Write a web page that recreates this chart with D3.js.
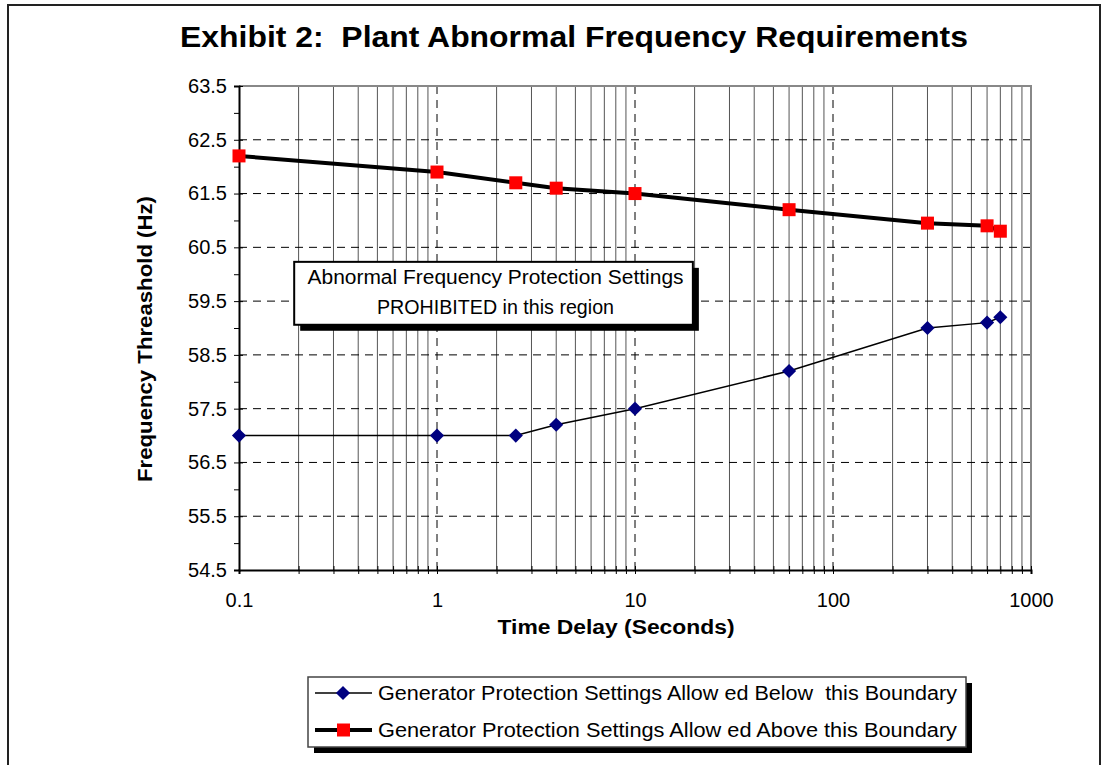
<!DOCTYPE html>
<html lang="en">
<head>
  <meta charset="UTF-8">
  <title>Exhibit 2</title>
  <script src="https://cdn.jsdelivr.net/npm/d3@7"></script>
  <style>
    body { margin: 0; background: #fff; }
    text { font-family: "Liberation Sans", Arial, sans-serif; white-space: pre; }
  </style>
</head>
<body>
  <script>
    // values
    const timeDelay = [0.1, 1, 2.5, 4, 10, 60, 300, 600, 700];
    const belowBoundary = [57, 57, 57, 57.2, 57.5, 58.2, 59.0, 59.1, 59.2];
    const aboveBoundary = [62.2, 61.9, 61.7, 61.6, 61.5, 61.2, 60.95, 60.9, 60.8];
    const yTicks = [54.5, 55.5, 56.5, 57.5, 58.5, 59.5, 60.5, 61.5, 62.5, 63.5];
    const yMinor = [55, 56, 57, 58, 59, 60, 61, 62, 63];
    const xLabels = [0.1, 1, 10, 100, 1000];
    const seriesNames = [
      "Generator Protection Settings Allow ed Below  this Boundary",
      "Generator Protection Settings Allow ed Above this Boundary"
    ];
    const noteLines = ["Abnormal Frequency Protection Settings", "PROHIBITED in this region"];

    const W = 1107, H = 765;
    const margin = { top: 86, right: 76, bottom: 195, left: 239 };
    const width = W - margin.left - margin.right;
    const height = H - margin.top - margin.bottom;

    const svg = d3.select("body").append("svg")
      .attr("width", W)
      .attr("height", H);

    // outer chart frame
    svg.append("rect")
      .attr("x", 8).attr("y", 5)
      .attr("width", 1092).attr("height", 800)
      .attr("fill", "none").attr("stroke", "#222").attr("stroke-width", 2);

    svg.append("text")
      .attr("x", 574).attr("y", 47)
      .attr("text-anchor", "middle")
      .attr("font-size", 30).attr("font-weight", "bold")
      .attr("textLength", 788).attr("lengthAdjust", "spacingAndGlyphs")
      .text("Exhibit 2:  Plant Abnormal Frequency Requirements");

    const g = svg.append("g")
      .attr("transform", `translate(${margin.left},${margin.top})`);

    const x = d3.scaleLog().domain([0.1, 1000]).range([0, width]);
    const y = d3.scaleLinear().domain([54.5, 63.5]).range([height, 0]);

    const isDecade = d => Math.abs(Math.log10(d) - Math.round(Math.log10(d))) < 1e-9;
    const xAll = x.ticks();

    // vertical grid: solid minor, dashed at decades
    g.append("g").selectAll("line")
      .data(xAll.filter(d => d > 0.1 && d < 1000))
      .enter().append("line")
      .attr("x1", d => x(d)).attr("x2", d => x(d))
      .attr("y1", 0).attr("y2", height)
      .attr("stroke", d => isDecade(d) ? "#000" : "#555")
      .attr("stroke-width", 1)
      .attr("stroke-dasharray", d => isDecade(d) ? "8,6" : null);

    // horizontal dashed grid
    g.append("g").selectAll("line")
      .data(yTicks.filter(d => d > 54.5 && d < 63.5))
      .enter().append("line")
      .attr("x1", 0).attr("x2", width)
      .attr("y1", d => y(d)).attr("y2", d => y(d))
      .attr("stroke", "#000").attr("stroke-width", 1)
      .attr("stroke-dasharray", "8,6");

    // plot area border (top/right grey)
    g.append("path")
      .attr("d", `M0,0H${width}V${height}`)
      .attr("fill", "none").attr("stroke", "#888").attr("stroke-width", 2);

    // x axis
    const xAxis = g.append("g")
      .attr("transform", `translate(0,${height})`)
      .call(d3.axisBottom(x).tickValues(xAll)
        .tickSize(4).tickPadding(19)
        .tickFormat(d => isDecade(d) && xLabels.includes(+d.toPrecision(1)) ? d3.format("~g")(d) : ""));
    xAxis.selectAll(".tick line").attr("y1", -4).attr("stroke", "#000");
    xAxis.select(".domain").attr("stroke", "#000").attr("stroke-width", 2);
    xAxis.selectAll("text").attr("font-size", 20).attr("fill", "#000");

    // y axis
    const yAxis = g.append("g")
      .call(d3.axisLeft(y).tickValues(yTicks)
        .tickSize(5).tickPadding(7)
        .tickFormat(d3.format(".1f")));
    yAxis.selectAll(".tick line").attr("x1", 4).attr("stroke", "#000");
    yAxis.select(".domain").attr("stroke", "#000").attr("stroke-width", 2);
    yAxis.selectAll("text").attr("font-size", 20).attr("fill", "#000");

    g.append("g")
      .call(d3.axisLeft(y).tickValues(yMinor).tickSize(5).tickFormat(""))
      .call(s => s.select(".domain").remove());

    // axis titles
    svg.append("text")
      .attr("transform", "translate(152,339) rotate(-90)")
      .attr("text-anchor", "middle")
      .attr("font-size", 20).attr("font-weight", "bold")
      .attr("textLength", 286).attr("lengthAdjust", "spacingAndGlyphs")
      .text("Frequency Threashold (Hz)");

    svg.append("text")
      .attr("x", 616).attr("y", 634)
      .attr("text-anchor", "middle")
      .attr("font-size", 20).attr("font-weight", "bold")
      .attr("textLength", 237).attr("lengthAdjust", "spacingAndGlyphs")
      .text("Time Delay (Seconds)");

    // prohibited region note
    const bx0 = x(0.19), bx1 = x(19.6), by0 = y(60.23), by1 = y(59.06);
    const note = g.append("g");
    note.append("rect")
      .attr("x", bx0 + 6).attr("y", by0 + 6)
      .attr("width", bx1 - bx0).attr("height", by1 - by0)
      .attr("fill", "#000");
    note.append("rect")
      .attr("x", bx0).attr("y", by0)
      .attr("width", bx1 - bx0).attr("height", by1 - by0)
      .attr("fill", "#fff").attr("stroke", "#000").attr("stroke-width", 2);
    note.selectAll("text")
      .data(noteLines)
      .enter().append("text")
      .attr("x", (bx0 + bx1) / 2 + 2).attr("y", (d, i) => by0 + 22 + i * 30)
      .attr("text-anchor", "middle").attr("font-size", 20)
      .attr("textLength", (d, i) => i ? 237 : 376).attr("lengthAdjust", "spacingAndGlyphs")
      .text(d => d);

    const line = d3.line()
      .x(d => x(d[0]))
      .y(d => y(d[1]));

    const lowPts = timeDelay.map((t, i) => [t, belowBoundary[i]]);
    const highPts = timeDelay.map((t, i) => [t, aboveBoundary[i]]);

    g.append("path").datum(lowPts)
      .attr("d", line).attr("fill", "none")
      .attr("stroke", "#000").attr("stroke-width", 1.5);

    g.append("path").datum(highPts)
      .attr("d", line).attr("fill", "none")
      .attr("stroke", "#000").attr("stroke-width", 4);

    const diamond = d3.symbol().type(d3.symbolSquare).size(100);

    g.append("g").selectAll("path")
      .data(lowPts)
      .enter().append("path")
      .attr("transform", d => `translate(${x(d[0])},${y(d[1])}) rotate(45)`)
      .attr("d", diamond)
      .attr("fill", "#000080");

    g.append("g").selectAll("rect")
      .data(highPts)
      .enter().append("rect")
      .attr("x", d => x(d[0]) - 6.5).attr("y", d => y(d[1]) - 6.5)
      .attr("width", 13).attr("height", 13)
      .attr("fill", "#ff0000");

    // legend
    const lg = svg.append("g").attr("transform", "translate(308,677)");
    lg.append("rect").attr("x", 6).attr("y", 6).attr("width", 658).attr("height", 70).attr("fill", "#000");
    lg.append("rect").attr("width", 658).attr("height", 70)
      .attr("fill", "#fff").attr("stroke", "#444").attr("stroke-width", 1.5);

    const rows = lg.selectAll("g.row")
      .data(seriesNames)
      .enter().append("g")
      .attr("class", "row")
      .attr("transform", (d, i) => `translate(0,${16 + i * 37})`);

    rows.append("line")
      .attr("x1", 7).attr("x2", 64)
      .attr("stroke", "#000").attr("stroke-width", (d, i) => i ? 4 : 1.5);

    rows.filter((d, i) => i === 0).append("path")
      .attr("transform", "translate(35,0) rotate(45)")
      .attr("d", diamond)
      .attr("fill", "#000080");
    rows.filter((d, i) => i === 1).append("rect")
      .attr("x", 29).attr("y", -6.5).attr("width", 13).attr("height", 13)
      .attr("fill", "#ff0000");

    rows.append("text")
      .attr("x", 70).attr("y", 7)
      .attr("font-size", 20)
      .attr("textLength", 579).attr("lengthAdjust", "spacingAndGlyphs")
      .text(d => d);
  </script>
</body>
</html>
